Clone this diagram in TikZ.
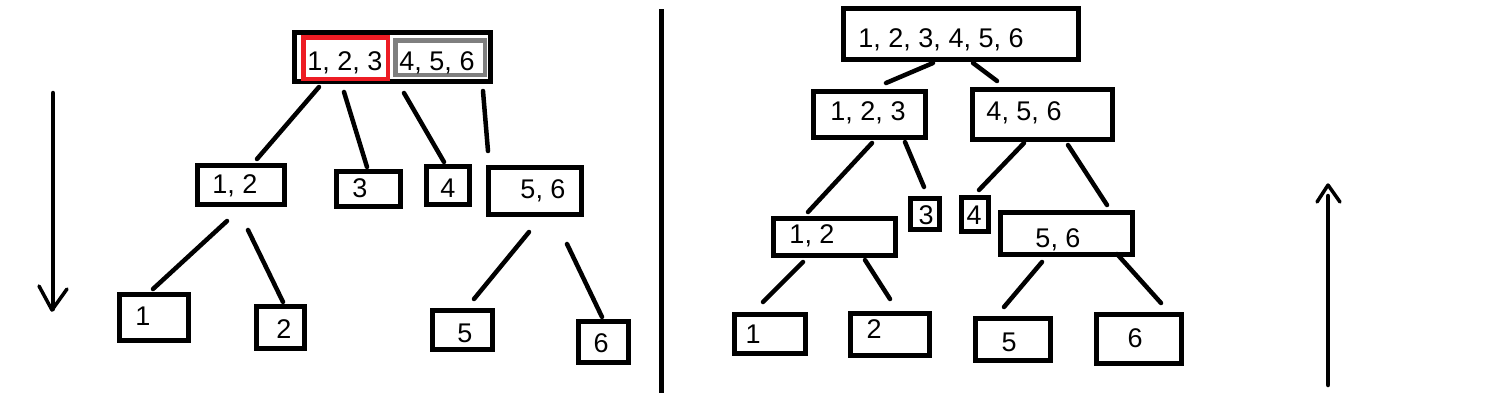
\documentclass[tikz,border=0pt]{standalone}
\usepackage{fontspec}
\setmainfont{Liberation Sans}
\definecolor{pred}{RGB}{237,28,36}
\definecolor{pgray}{RGB}{127,127,127}
\tikzset{
  box/.style={draw=black, line width=5pt, rectangle, inner sep=0pt, outer sep=0pt},
  redbox/.style={draw=pred, line width=4.5pt, rectangle, inner sep=0pt, outer sep=0pt},
  graybox/.style={draw=pgray, line width=4.5pt, rectangle, inner sep=0pt, outer sep=0pt},
  txt/.style={anchor=base, inner sep=0pt, font=\fontsize{27}{30}\selectfont},
  conn/.style={line width=4.5pt, line cap=round},
  arrline/.style={line width=4.5pt, line cap=round, line join=round},
  wing/.style={line width=3.5pt, line cap=round, line join=round},
  divider/.style={line width=5pt}
}
\newcommand\mkbox[6]{\node[#1, minimum width=#5pt, minimum height=#6pt] (#2) at (#3,#4) {};}
\newcommand\mktxt[4]{\node[txt] (#1) at (#2,#3) {#4};}
\newcommand\mkconn[5]{\coordinate (#1a) at (#2,#3); \coordinate (#1b) at (#4,#5); \draw[conn] (#1a) -- (#1b);}
\begin{document}
\begin{tikzpicture}[x=1pt,y=-1pt]
\useasboundingbox[fill=white] (0,0) rectangle (1503,413);

% ---------- left side ----------
\mkbox{box}{Ltop}{392.5}{57}{196}{49}
\mkbox{redbox}{Lred}{345.5}{58}{84.5}{41.5}
\mkbox{graybox}{Lgray}{440}{57.5}{89.5}{34.5}
\mktxt{tLred}{345}{70}{1, 2, 3}
\mktxt{tLgray}{437}{70}{4, 5, 6}

\mkbox{box}{L12}{241}{185}{87}{39}
\mkbox{box}{L1}{154}{317.5}{69}{46}
\mkbox{box}{L2}{280.5}{327.5}{48}{42}
\mkbox{box}{L3}{368.5}{189}{64}{35}
\mkbox{box}{L4}{448}{185.5}{43}{38}
\mkbox{box}{L56}{535}{191}{93}{47}
\mkbox{box}{L5}{462.5}{330}{60}{39}
\mkbox{box}{L6}{603.5}{342}{50}{41}

\mktxt{tL12}{235}{193}{1, 2}
\mktxt{tL1}{143}{325}{1}
\mktxt{tL2}{284}{338}{2}
\mktxt{tL3}{360}{197}{3}
\mktxt{tL4}{448}{197}{4}
\mktxt{tL56}{543}{198}{5, 6}
\mktxt{tL5}{465}{342}{5}
\mktxt{tL6}{601}{352}{6}

\mkconn{c1}{319}{87}{257}{159}
\mkconn{c2}{344}{92}{367}{167}
\mkconn{c3}{404}{93}{444}{162}
\mkconn{c4}{483}{91}{488}{151}
\mkconn{c5}{227}{221}{153}{289}
\mkconn{c6}{248}{230}{283}{302}
\mkconn{c7}{529}{232}{474}{299}
\mkconn{c8}{567}{244}{602}{317}

% down arrow
\coordinate (dA) at (53,93);
\coordinate (dB) at (53,309);
\coordinate (dL) at (39,286);
\coordinate (dR) at (67,289);
\draw[arrline] (dA) -- (dB);
\draw[wing] (dL) -- (52,310) -- (dR);

% divider
\coordinate (divT) at (661,9);
\coordinate (divB) at (661,393);
\draw[divider] (divT) -- (divB);

% ---------- right side ----------
\mkbox{box}{Rtop}{961}{34}{235}{51}
\mkbox{box}{R123}{869.5}{114.5}{112}{46}
\mkbox{box}{R456}{1042.5}{114.5}{140}{50}
\mkbox{box}{R12}{834.5}{237}{122}{37}
\mkbox{box}{R3}{925}{214}{29}{31}
\mkbox{box}{R4}{975}{214.5}{27}{34}
\mkbox{box}{R56}{1066.5}{233.5}{132}{42}
\mkbox{box}{R1}{770}{334}{71}{39}
\mkbox{box}{R2}{890}{334.5}{79}{42}
\mkbox{box}{R5}{1013}{339.5}{75}{42}
\mkbox{box}{R6}{1139}{339}{85}{49}

\mktxt{tRtop}{941}{47}{1, 2, 3, 4, 5, 6}
\mktxt{tR123}{868}{120}{1, 2, 3}
\mktxt{tR456}{1024}{120}{4, 5, 6}
\mktxt{tR12}{812}{243}{1, 2}
\mktxt{tR3}{926}{224}{3}
\mktxt{tR4}{974}{224}{4}
\mktxt{tR56}{1058}{247}{5, 6}
\mktxt{tR1}{753}{343}{1}
\mktxt{tR2}{874}{338}{2}
\mktxt{tR5}{1009}{351}{5}
\mktxt{tR6}{1135}{347}{6}

\mkconn{r1}{933}{63}{886}{83}
\mkconn{r2}{973}{63}{997}{81}
\mkconn{r3}{872}{143}{808}{212}
\mkconn{r4}{905}{142}{924}{187}
\mkconn{r5}{1024}{143}{979}{190}
\mkconn{r6}{1068}{145}{1107}{205}
\mkconn{r7}{803}{262}{763}{302}
\mkconn{r8}{865}{260}{890}{299}
\mkconn{r9}{1042}{262}{1004}{307}
\mkconn{r10}{1117}{254}{1161}{303}

% up arrow
\coordinate (uA) at (1328,385);
\coordinate (uB) at (1328,196);
\coordinate (uL) at (1317,202);
\coordinate (uR) at (1340,202);
\draw[arrline] (uA) -- (uB);
\draw[wing] (uL) -- (1328,185) -- (uR);
\end{tikzpicture}
\end{document}
